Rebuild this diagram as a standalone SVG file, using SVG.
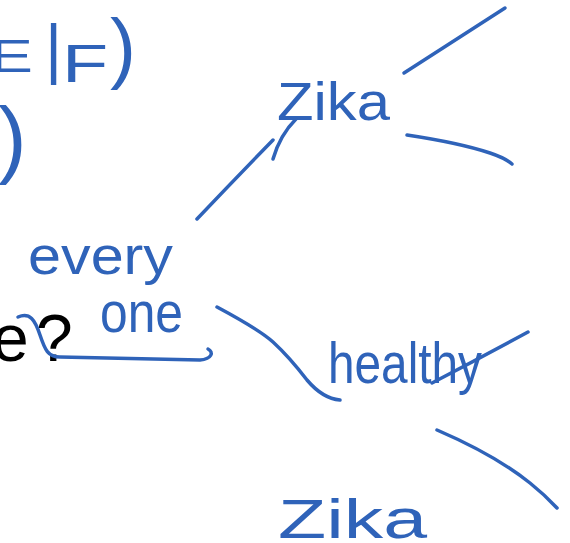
<svg xmlns="http://www.w3.org/2000/svg" width="570" height="543" viewBox="0 0 570 543">
  <style>
    .ink { fill: none; stroke: #2f63b9; stroke-width: 3.5; stroke-linecap: round; stroke-linejoin: round; }
    .hw { fill: #2f63b9; font-family: "Liberation Sans", Arial, sans-serif; }
    .print { fill: #000000; font-family: "Liberation Sans", Arial, sans-serif; }
  </style>
  <rect width="570" height="543" fill="#ffffff"/>

  <!-- notes at the top left -->
  <g id="note-cond">
    <text class="hw" font-size="46" transform="translate(-10,72) scale(1.4,1)">E</text>
    <text class="hw" font-size="66" x="45" y="71">|</text>
    <text class="hw" font-size="54" transform="translate(62,82) scale(1.4,1)">F</text>
    <text class="hw" font-size="78" x="110" y="74">)</text>
  </g>
  <g id="note-paren">
    <text class="hw" font-size="86" x="-2" y="167">)</text>
  </g>

  <!-- printed question -->
  <g id="question">
    <text class="print" font-size="66" x="-8" y="361">e</text>
    <text class="print" font-size="66" x="36" y="361">?</text>
  </g>

  <!-- tree nodes -->
  <g id="node-everyone">
    <text class="hw" font-size="54" x="28" y="274" textLength="145" lengthAdjust="spacingAndGlyphs">every</text>
    <text class="hw" font-size="58" x="100" y="332" textLength="83" lengthAdjust="spacingAndGlyphs">one</text>
  </g>
  <g id="node-zika-top">
    <text class="hw" font-size="54" x="277" y="120" textLength="113" lengthAdjust="spacingAndGlyphs">Zika</text>
  </g>
  <g id="node-healthy">
    <text class="hw" font-size="58" x="328" y="383" textLength="154" lengthAdjust="spacingAndGlyphs">healthy</text>
  </g>
  <g id="node-zika-bottom">
    <text class="hw" font-size="56" x="278" y="538" textLength="149" lengthAdjust="spacingAndGlyphs">Zika</text>
  </g>

  <!-- branches -->
  <g id="connectors">
    <path class="ink" d="M197,219 Q235,179 273,140"/>
    <path class="ink" d="M273,159 Q280,135 296,119"/>
    <path class="ink" d="M404,73 Q455,40 505,8"/>
    <path class="ink" d="M407,135 Q460,143 490,153 Q505,158 512,164"/>
    <path class="ink" d="M18,317 C30,312 35,320 40,335 C45,350 48,357 60,357 L200,360 C212,359 214,352 208,349"/>
    <path class="ink" d="M217,307 C245,322 262,332 273,342 C285,353 297,367 307,380 C318,393 328,399 340,400"/>
    <path class="ink" d="M432,383 Q480,358 528,332"/>
    <path class="ink" d="M437,430 Q495,455 530,483 Q545,495 557,508"/>
  </g>
</svg>
